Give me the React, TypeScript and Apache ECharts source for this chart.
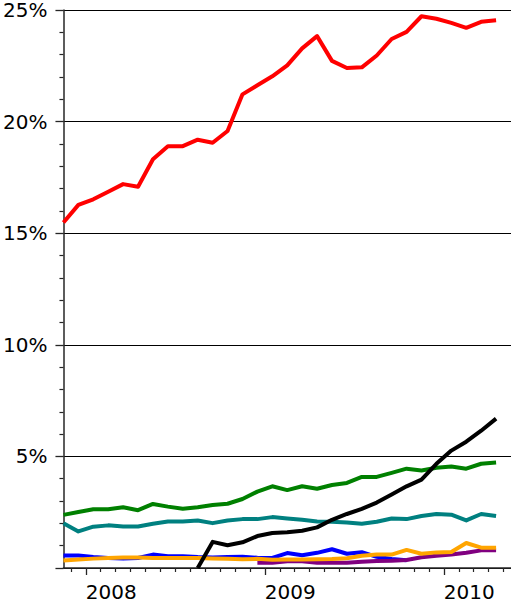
import React, { useEffect, useRef } from "react";
import * as echarts from "echarts";

// Monthly observations (plotted at mid-month)
const months = [
  "2007-11", "2007-12",
  "2008-01", "2008-02", "2008-03", "2008-04", "2008-05", "2008-06",
  "2008-07", "2008-08", "2008-09", "2008-10", "2008-11", "2008-12",
  "2009-01", "2009-02", "2009-03", "2009-04", "2009-05", "2009-06",
  "2009-07", "2009-08", "2009-09", "2009-10", "2009-11", "2009-12",
  "2010-01", "2010-02", "2010-03", "2010-04",
];

const yearLabels = ["2008", "2009", "2010"];
const yearTickMonths = ["2008-01", "2009-01", "2010-01"];
const minorTickMonths = [
  "2007-12", "2008-02", "2008-03", "2008-04", "2008-05", "2008-06", "2008-07",
  "2008-08", "2008-09", "2008-10", "2008-11", "2008-12", "2009-02", "2009-03",
  "2009-04", "2009-05", "2009-06", "2009-07", "2009-08", "2009-09", "2009-10",
  "2009-11", "2009-12", "2010-02", "2010-03", "2010-04", "2010-05",
];

const redValues = [
  15.48, 16.27, 16.52, 16.86, 17.2, 17.08, 18.31, 18.9, 18.9, 19.19, 19.05, 19.58,
  21.22, 21.63, 22.03, 22.52, 23.28, 23.83, 22.72, 22.4, 22.43, 22.96, 23.7, 24.02,
  24.72, 24.61, 24.42, 24.2, 24.47, 24.54,
];
const greenValues = [
  2.38, 2.51, 2.63, 2.63, 2.72, 2.59, 2.87, 2.75, 2.65, 2.72, 2.82, 2.88, 3.09, 3.42,
  3.66, 3.49, 3.66, 3.55, 3.72, 3.81, 4.08, 4.08, 4.26, 4.45, 4.37, 4.49, 4.55, 4.45,
  4.67, 4.73,
];
const tealValues = [
  2.01, 1.64, 1.85, 1.91, 1.86, 1.86, 1.98, 2.08, 2.08, 2.13, 2.01, 2.13, 2.19, 2.19,
  2.28, 2.22, 2.16, 2.08, 2.07, 2.04, 1.98, 2.07, 2.22, 2.19, 2.33, 2.42, 2.39, 2.13,
  2.42, 2.33,
];
const blueValues = [
  0.56, 0.56, 0.49, 0.45, 0.42, 0.45, 0.6, 0.53, 0.53, 0.49, 0.47, 0.49, 0.5, 0.46,
  0.45, 0.67, 0.57, 0.68, 0.84, 0.64, 0.71, 0.5, 0.4, 0.35, null, null, null, null,
  null, null,
];
const purpleValues = [
  null, null, null, null, null, null, null, null, null, null, null, null, null, 0.24,
  0.24, 0.3, 0.3, 0.24, 0.24, 0.24, 0.28, 0.31, 0.32, 0.36, 0.48, 0.55, 0.6, 0.68,
  0.79, 0.79,
];
const orangeValues = [
  0.34, 0.38, 0.42, 0.45, 0.47, 0.47, 0.45, 0.45, 0.45, 0.45, 0.43, 0.41, 0.39, 0.41,
  0.37, 0.38, 0.38, 0.39, 0.4, 0.44, 0.55, 0.6, 0.6, 0.81, 0.64, 0.7, 0.72, 1.12, 0.91,
  0.91,
];
const blackValues = [
  null, null, null, null, null, null, null, null, null, 0, 1.17, 1.02, 1.15, 1.43,
  1.57, 1.6, 1.67, 1.82, 2.16, 2.42, 2.65, 2.93, 3.29, 3.66, 3.96, 4.67, 5.26, 5.66,
  6.15, 6.69,
];

const seriesDefs = [
  { name: "red", color: "#ff0000", values: redValues },
  { name: "green", color: "#008000", values: greenValues },
  { name: "teal", color: "#008080", values: tealValues },
  { name: "blue", color: "#0000ff", values: blueValues },
  { name: "purple", color: "#800080", values: purpleValues },
  { name: "orange", color: "#ffa500", values: orangeValues },
  { name: "black", color: "#000000", values: blackValues },
];

// month string -> months since Jan 2008 (start of month)
const monthStart = (m: string) => {
  const [y, mo] = m.split("-").map(Number);
  return (y - 2008) * 12 + (mo - 1);
};
const midMonth = (m: string) => monthStart(m) + 0.5;

const FONT = "DejaVu Sans";
const AXIS_COLOR = "#262626";

export default function App() {
  const ref = useRef<HTMLDivElement>(null);

  useEffect(() => {
    if (!ref.current) return;
    const chart = echarts.init(ref.current, undefined, { renderer: "svg" });
    const xMin = midMonth(months[0]);
    const xMax = midMonth(months[months.length - 1]) + 1;
    const yearTicks = yearTickMonths.map(monthStart);
    const minorTicks = minorTickMonths.map(monthStart);

    chart.setOption({
      animation: false,
      backgroundColor: "#ffffff",
      grid: { left: 61, right: 0, top: 8, bottom: 30, containLabel: false },
      xAxis: [
        {
          type: "value",
          min: xMin,
          max: xMax,
          position: "bottom",
          axisLine: { show: true, onZero: false, lineStyle: { color: AXIS_COLOR, width: 1.5 } },
          axisTick: {
            show: true,
            customValues: yearTicks,
            length: 7,
            lineStyle: { color: AXIS_COLOR, width: 1.3 },
          },
          axisLabel: {
            show: true,
            customValues: yearTicks,
            formatter: (v: number) => {
              const idx = yearTicks.indexOf(Math.round(v));
              return idx >= 0 ? yearLabels[idx] : "";
            },
            align: "left",
            margin: 14,
            fontSize: 20,
            fontFamily: FONT,
            color: "#000000",
          },
          splitLine: { show: false },
        },
        {
          type: "value",
          min: xMin,
          max: xMax,
          position: "bottom",
          axisLine: { show: false, onZero: false },
          axisTick: {
            show: true,
            customValues: minorTicks,
            length: 4,
            lineStyle: { color: AXIS_COLOR, width: 1.2 },
          },
          axisLabel: { show: false },
          splitLine: { show: false },
        },
      ],
      yAxis: {
        type: "value",
        min: 0,
        max: 25,
        interval: 5,
        axisLine: { show: true, onZero: false, lineStyle: { color: AXIS_COLOR, width: 1.5 } },
        axisTick: { show: true, length: 8, lineStyle: { color: AXIS_COLOR, width: 1.3 } },
        minorTick: {
          show: true,
          splitNumber: 5,
          length: 4,
          lineStyle: { color: AXIS_COLOR, width: 1.2 },
        },
        axisLabel: {
          formatter: (v: number) => (v === 0 ? "" : `${v}%`),
          margin: 16,
          fontSize: 20,
          fontFamily: FONT,
          color: "#000000",
        },
        splitLine: { show: true, lineStyle: { color: "#000000", width: 1.2 } },
        minorSplitLine: { show: false },
      },
      series: seriesDefs.map((s) => ({
        name: s.name,
        type: "line",
        xAxisIndex: 0,
        symbol: "none",
        clip: true,
        lineStyle: { color: s.color, width: 4, join: "round", cap: "butt" },
        itemStyle: { color: s.color },
        emphasis: { disabled: true },
        data: months
          .map((m, i) => [midMonth(m), s.values[i]])
          .filter((p) => p[1] !== null && p[1] !== undefined),
      })),
    });

    return () => chart.dispose();
  }, []);

  return (
    <div
      ref={ref}
      style={{ position: "absolute", left: 0, top: 0, width: 511, height: 602, background: "#fff" }}
    />
  );
}
